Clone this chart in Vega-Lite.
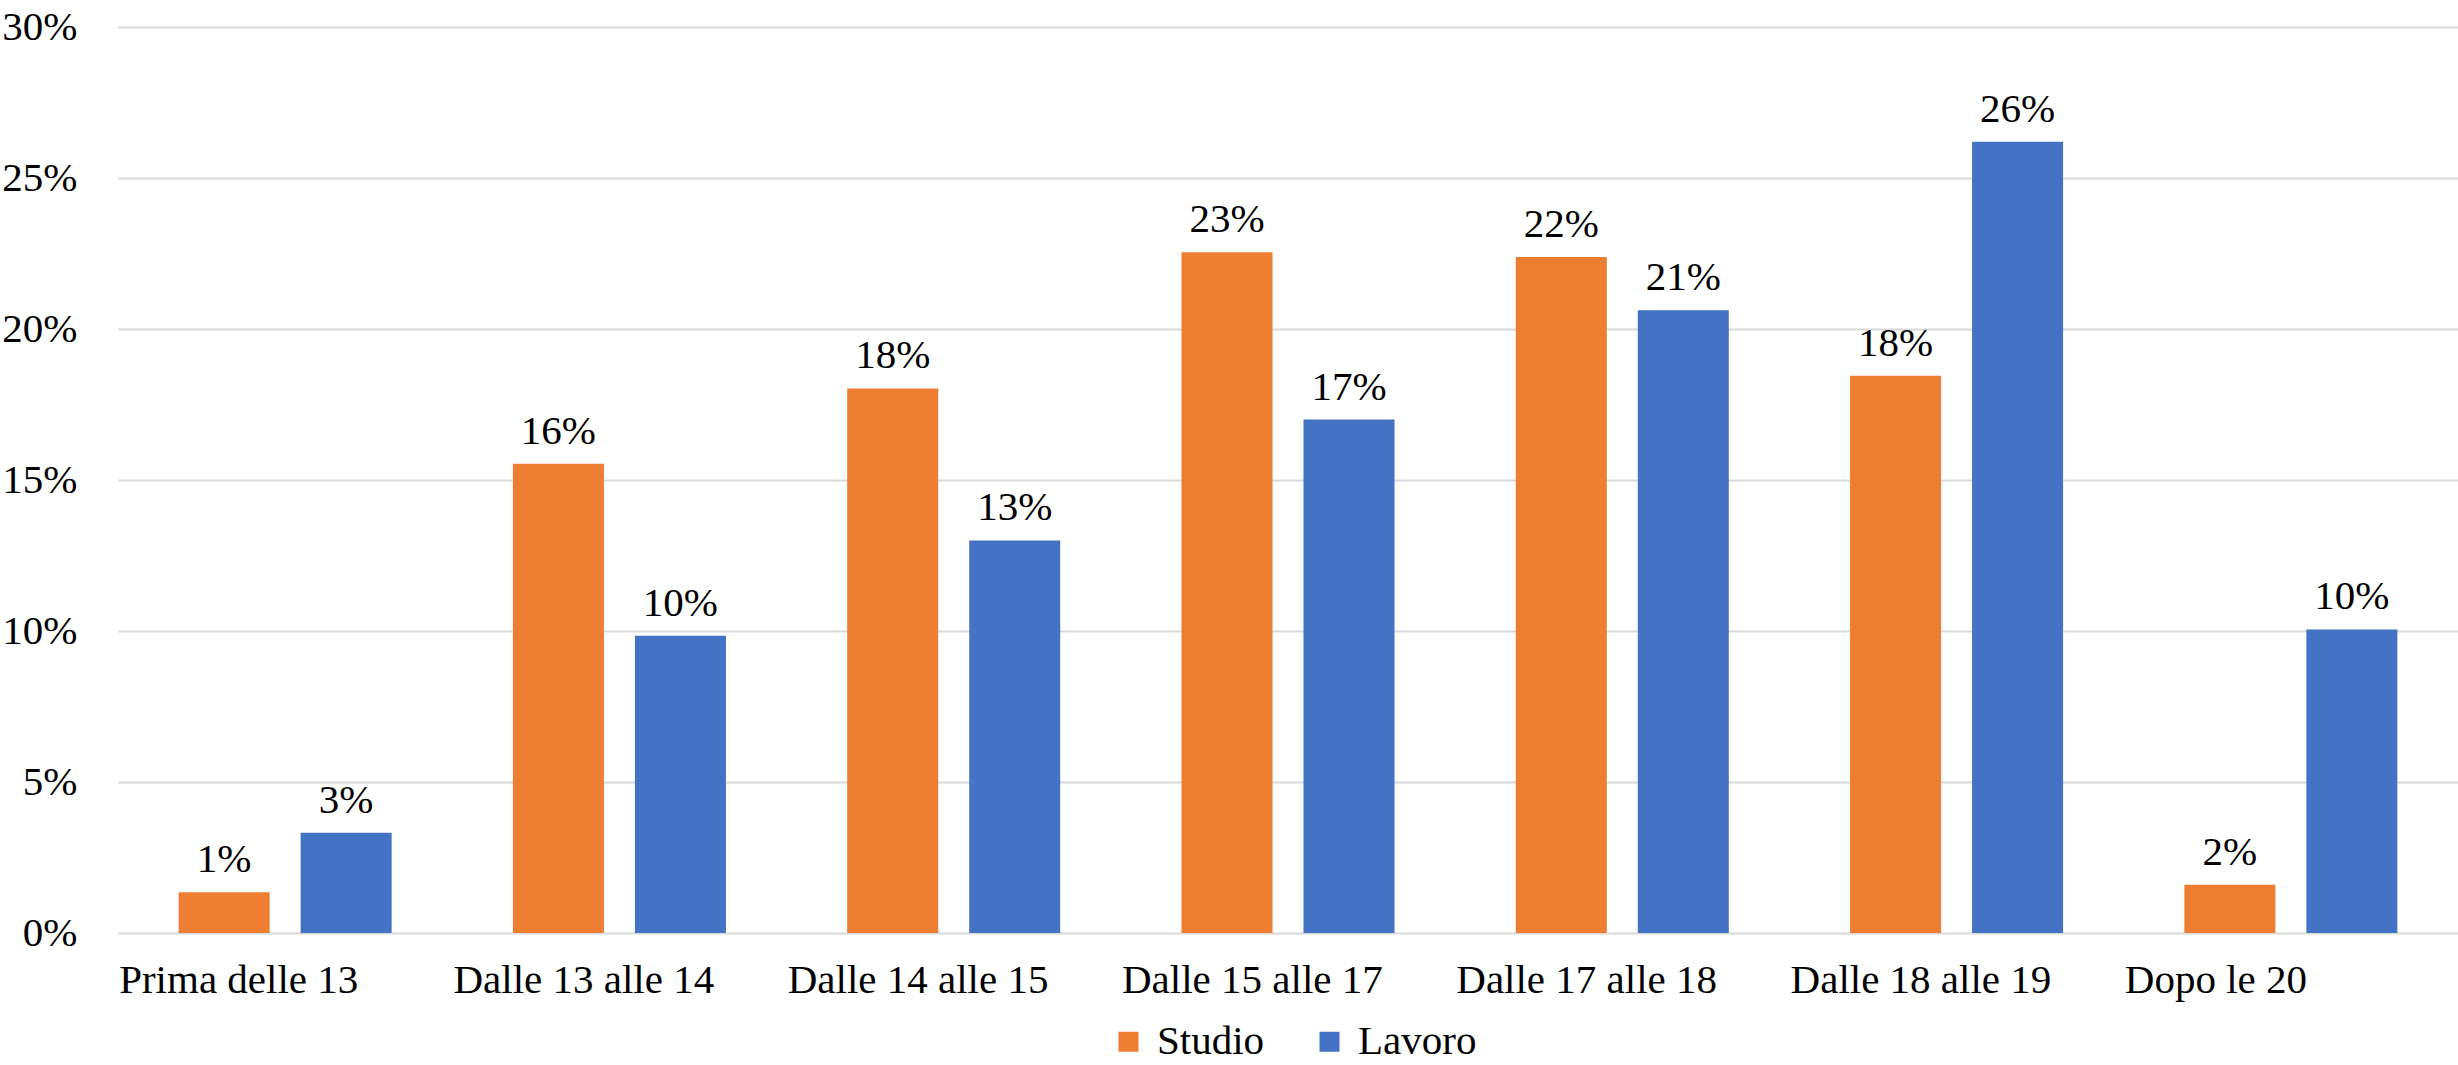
{
  "$schema": "https://vega.github.io/schema/vega-lite/v6.json",
  "autosize": {"type": "none"},
  "width": 2340,
  "height": 906,
  "padding": {"left": 118, "top": 27, "right": 0, "bottom": 132},
  "background": "white",
  "config": {
    "font": "Liberation Serif",
    "view": {"stroke": null}
  },
  "data": {
    "values": [
      {"fascia": "Prima delle 13", "gruppo": "Studio", "valore": 0.0135},
      {"fascia": "Prima delle 13", "gruppo": "Lavoro", "valore": 0.0332},
      {"fascia": "Dalle 13 alle 14", "gruppo": "Studio", "valore": 0.1554},
      {"fascia": "Dalle 13 alle 14", "gruppo": "Lavoro", "valore": 0.0984},
      {"fascia": "Dalle 14 alle 15", "gruppo": "Studio", "valore": 0.1803},
      {"fascia": "Dalle 14 alle 15", "gruppo": "Lavoro", "valore": 0.1300},
      {"fascia": "Dalle 15 alle 17", "gruppo": "Studio", "valore": 0.2254},
      {"fascia": "Dalle 15 alle 17", "gruppo": "Lavoro", "valore": 0.1700},
      {"fascia": "Dalle 17 alle 18", "gruppo": "Studio", "valore": 0.2238},
      {"fascia": "Dalle 17 alle 18", "gruppo": "Lavoro", "valore": 0.2062},
      {"fascia": "Dalle 18 alle 19", "gruppo": "Studio", "valore": 0.1845},
      {"fascia": "Dalle 18 alle 19", "gruppo": "Lavoro", "valore": 0.2620},
      {"fascia": "Dopo le 20", "gruppo": "Studio", "valore": 0.0160},
      {"fascia": "Dopo le 20", "gruppo": "Lavoro", "valore": 0.1005}
    ]
  },
  "encoding": {
    "x": {
      "field": "fascia",
      "type": "nominal",
      "sort": null,
      "scale": {"paddingInner": 0, "paddingOuter": 0},
      "axis": {
        "title": null,
        "domain": false,
        "ticks": false,
        "labelAngle": 0,
        "labelAlign": "left",
        "labelOffset": -166,
        "labelPadding": 27,
        "labelLimit": 0,
        "labelFont": "Liberation Serif",
        "labelFontSize": 41,
        "labelColor": "black"
      }
    },
    "xOffset": {
      "field": "gruppo",
      "type": "nominal",
      "sort": ["Studio", "Lavoro"],
      "scale": {"paddingInner": 0.254, "paddingOuter": 0.497}
    },
    "y": {
      "field": "valore",
      "type": "quantitative",
      "scale": {"domain": [0, 0.3], "nice": false},
      "axis": {
        "title": null,
        "format": ".0%",
        "values": [0, 0.05, 0.1, 0.15, 0.2, 0.25, 0.3],
        "domain": false,
        "ticks": false,
        "labelPadding": 41,
        "labelFont": "Liberation Serif",
        "labelFontSize": 41,
        "labelColor": "black",
        "gridColor": "#D9D9D9",
        "gridWidth": 2
      }
    }
  },
  "layer": [
    {
      "mark": {"type": "bar"},
      "encoding": {
        "color": {
          "field": "gruppo",
          "type": "nominal",
          "sort": ["Studio", "Lavoro"],
          "scale": {"domain": ["Studio", "Lavoro"], "range": ["#ED7D31", "#4472C4"]},
          "legend": {
            "title": null,
            "orient": "none",
            "direction": "horizontal",
            "legendX": 990,
            "legendY": 994,
            "symbolType": "square",
            "symbolSize": 400,
            "symbolStrokeWidth": 0,
            "labelFont": "Liberation Serif",
            "labelFontSize": 41,
            "labelLimit": 0,
            "labelColor": "black",
            "labelOffset": 8,
            "columnPadding": 44
          }
        }
      }
    },
    {
      "mark": {"type": "text", "baseline": "alphabetic", "dy": -20, "fontSize": 41, "font": "Liberation Serif", "color": "black"},
      "encoding": {
        "text": {"field": "valore", "type": "quantitative", "format": ".0%"}
      }
    }
  ]
}
